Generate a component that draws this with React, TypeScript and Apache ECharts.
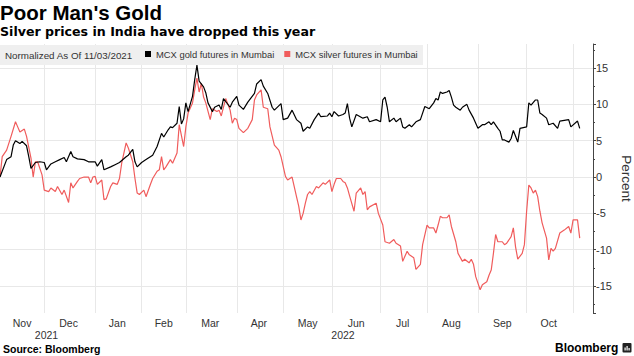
import React, { useEffect, useRef } from 'react';
import * as echarts from 'echarts';

// ---- axis domain (weekday trading slots) ----
const startDate = '2021-11-03';
const endDate = '2022-11-14';
const monthNames = ['Jan', 'Feb', 'Mar', 'Apr', 'May', 'Jun', 'Jul', 'Aug', 'Sep', 'Oct', 'Nov', 'Dec'];
const labelledMonths = ['2021-11', '2021-12', '2022-01', '2022-02', '2022-03', '2022-04', '2022-05', '2022-06', '2022-07', '2022-08', '2022-09', '2022-10'];
const yearLabels = ['2021', '2022'];
const yTickLabels = [-15, -10, -5, 0, 5, 10, 15];

// ---- series: [weekday offset from 11/03/2021, percent change] ----
const goldPoints: [number, number][] = [
  [0, 0], [3, 2.4], [5, 2.8], [6, 4.4], [7, 5.0], [9, 4.6], [10, 4.9], [12, 4.3], [13, 2.8], [14, 1.2],
  [16, 2.0], [18, 2.1], [20, 2.0], [21, 1.0], [23, 1.8], [25, 2.1], [27, 2.4], [29, 2.7], [30, 2.1], [32, 3.5],
  [33, 2.8], [35, 2.5], [38, 2.4], [40, 2.1], [43, 2.1], [44, 1.5], [46, 2.4], [47, 1.0], [50, 1.4], [52, 1.7],
  [54, 2.0], [57, 2.8], [58, 3.0], [60, 3.8], [61, 2.1], [62, 1.4], [64, 2.0], [66, 2.4], [69, 3.0], [71, 4.2],
  [73, 6.0], [74, 5.5], [76, 6.5], [77, 6.9], [78, 6.8], [80, 7.4], [81, 9.7], [82, 7.3], [83, 8.0], [84, 10.2],
  [85, 9.0], [87, 11.1], [88, 13.4], [89, 15.4], [90, 13.2], [92, 12.4], [93, 11.6], [94, 10.2], [96, 9.0], [97, 9.6],
  [99, 9.9], [100, 9.3], [101, 10.8], [104, 9.6], [105, 10.3], [107, 11.1], [108, 9.9], [110, 9.3], [112, 10.3], [115, 11.5],
  [116, 12.8], [118, 13.4], [119, 12.5], [121, 11.5], [123, 9.6], [124, 9.2], [127, 10.1], [128, 7.9], [130, 8.1], [132, 9.2],
  [134, 7.9], [136, 7.4], [137, 6.3], [139, 6.9], [140, 6.7], [142, 7.9], [144, 8.8], [145, 8.3], [148, 8.4], [149, 8.8],
  [150, 8.3], [151, 9.0], [153, 8.4], [155, 8.6], [156, 8.8], [157, 10.1], [158, 8.1], [159, 6.9], [161, 8.6], [164, 8.1],
  [166, 8.3], [167, 7.6], [170, 7.9], [172, 7.6], [173, 10.6], [174, 11.0], [175, 9.6], [176, 7.6], [178, 8.1], [179, 7.6],
  [181, 8.1], [182, 6.9], [183, 6.7], [185, 7.2], [186, 6.9], [188, 7.6], [190, 7.9], [192, 9.7], [194, 9.4], [196, 10.2],
  [197, 10.8], [198, 10.6], [199, 11.7], [200, 11.5], [202, 11.7], [203, 11.9], [204, 11.0], [205, 9.9], [206, 9.6], [208, 9.2],
  [209, 9.6], [211, 10.0], [212, 9.2], [214, 8.1], [216, 6.7], [218, 7.2], [219, 7.2], [221, 7.6], [222, 7.2], [223, 7.6],
  [225, 6.7], [226, 6.3], [227, 5.1], [228, 5.1], [230, 4.8], [231, 5.3], [232, 6.4], [233, 5.6], [234, 4.8], [235, 6.7],
  [238, 6.9], [239, 10.2], [240, 9.9], [242, 10.6], [243, 10.6], [244, 8.8], [245, 8.6], [247, 8.1], [248, 7.2], [250, 7.4],
  [252, 6.7], [253, 7.7], [257, 7.9], [258, 6.9], [261, 7.7], [262, 6.7],
];

const silverPoints: [number, number][] = [
  [0, 0], [1, 2.8], [3, 3.7], [5, 5.6], [7, 7.6], [8, 6.9], [9, 6.2], [11, 6.6], [12, 5.6], [14, 2.6],
  [15, 0], [16, 2.1], [17, 2.1], [19, 0.3], [20, -1.8], [22, -2.0], [23, -1.5], [25, -2.0], [26, -1.3], [28, -2.4],
  [29, -1.8], [31, -3.5], [32, -0.8], [33, -1.5], [35, -0.6], [36, -0.2], [38, 0], [40, 0], [41, -0.8], [42, 0],
  [43, 0.1], [44, -1.0], [46, -0.4], [47, -3.1], [48, -3.0], [50, -1.3], [51, -0.8], [53, -1.0], [54, -0.2], [55, 1.9],
  [57, 4.7], [58, 4.0], [60, 2.1], [61, -0.2], [62, -2.2], [63, -2.4], [65, -1.8], [66, -2.7], [68, -1.0], [69, -0.2],
  [71, 0.8], [72, 1.0], [73, 2.8], [74, 1.0], [75, 1.4], [77, 2.4], [78, 1.9], [80, 3.3], [81, 7.2], [83, 4.2],
  [84, 6.9], [85, 8.8], [87, 10.2], [88, 12.0], [89, 13.6], [90, 11.7], [91, 12.9], [92, 11.0], [93, 10.2], [95, 7.9],
  [96, 9.4], [98, 9.0], [99, 9.2], [100, 8.4], [102, 10.8], [104, 9.2], [105, 7.4], [106, 8.1], [107, 7.9], [108, 6.7],
  [110, 6.1], [112, 6.7], [114, 7.9], [115, 10.6], [116, 11.3], [118, 12.0], [119, 9.6], [121, 9.4], [122, 6.9], [124, 4.4],
  [126, 3.7], [127, 2.8], [129, 0.1], [130, -0.4], [132, 0], [134, -2.7], [135, -4.0], [136, -5.9], [137, -5.0], [138, -3.6],
  [139, -2.4], [140, -2.0], [141, -2.4], [143, -1.3], [144, -1.5], [146, -0.8], [147, -1.0], [149, -0.4], [150, -2.0], [151, -1.0],
  [152, -0.2], [154, -0.2], [155, -0.6], [156, -0.8], [157, -1.5], [158, -2.6], [160, -4.7], [161, -2.2], [163, -1.5], [164, -2.4],
  [165, -2.0], [166, -4.5], [167, -4.1], [170, -3.6], [171, -5.0], [173, -6.6], [174, -8.9], [176, -9.1], [178, -8.6], [179, -9.1],
  [181, -9.5], [182, -11.6], [183, -10.9], [184, -10.2], [185, -10.7], [187, -11.1], [188, -12.7], [190, -12.0], [191, -9.3], [193, -6.6],
  [194, -7.0], [196, -7.0], [197, -7.7], [198, -6.6], [199, -5.4], [200, -5.6], [202, -5.6], [203, -5.2], [204, -6.8], [206, -8.9],
  [207, -10.5], [209, -11.6], [210, -11.3], [212, -11.8], [213, -11.3], [214, -12.0], [215, -13.7], [217, -15.5], [218, -14.8], [220, -14.4],
  [221, -13.5], [222, -12.8], [223, -10.5], [224, -7.9], [225, -8.9], [227, -8.9], [228, -9.3], [229, -9.1], [231, -8.2], [232, -7.0],
  [233, -9.6], [234, -11.3], [236, -10.5], [237, -9.3], [238, -4.7], [239, -1.1], [240, -1.5], [241, -2.2], [242, -1.8], [243, -2.7],
  [244, -4.7], [245, -6.3], [247, -8.4], [248, -11.4], [249, -9.8], [250, -10.2], [251, -9.8], [253, -7.7], [255, -7.3], [257, -6.8],
  [258, -7.7], [259, -5.9], [261, -5.9], [262, -8.4],
];

const FONT = '"Liberation Sans", Arial, sans-serif';
const WIDE = '"DejaVu Sans", Verdana, sans-serif';
const GOLD = '#000000';
const SILVER = '#f05c5c';

function weekdays(start: string, end: string): string[] {
  const out: string[] = [];
  const d = new Date(start + 'T00:00:00Z');
  const e = new Date(end + 'T00:00:00Z');
  while (d.getTime() <= e.getTime()) {
    const wd = d.getUTCDay();
    if (wd !== 0 && wd !== 6) out.push(d.toISOString().slice(0, 10));
    d.setUTCDate(d.getUTCDate() + 1);
  }
  return out;
}

export default function App() {
  const ref = useRef<HTMLDivElement>(null);
  useEffect(() => {
    if (!ref.current) return;
    document.body.style.margin = '0';
    const categories = weekdays(startDate, endDate);
    const last = categories.length - 1;

    const monthStarts = new Set<number>();
    for (let i = 1; i < categories.length; i++) {
      if (categories[i].slice(0, 7) !== categories[i - 1].slice(0, 7)) monthStarts.add(i);
    }
    const firstIndexOf = (prefix: string) => categories.findIndex((c) => c.startsWith(prefix));
    const monthLabelIdx = new Set<number>();
    labelledMonths.forEach((m) => {
      const s = firstIndexOf(m);
      let n = -1;
      for (let i = s + 1; i < categories.length; i++) {
        if (!categories[i].startsWith(m)) { n = i; break; }
      }
      if (n < 0) n = last;
      monthLabelIdx.add(Math.floor((s + n) / 2));
    });
    const yearLabelIdx = new Set<number>();
    yearLabels.forEach((y, k) => {
      const s = firstIndexOf(y);
      const nxt = k + 1 < yearLabels.length ? firstIndexOf(yearLabels[k + 1]) : last;
      yearLabelIdx.add(Math.floor((s + nxt) / 2));
    });

    const toData = (pts: [number, number][]) => pts.map(([d, v]) => [categories[d], v]);

    const chart = echarts.init(ref.current, undefined, { renderer: 'svg' });
    chart.setOption({
      animation: false,
      backgroundColor: '#ffffff',
      textStyle: { fontFamily: FONT },
      grid: { left: 0, right: 41, top: 44, bottom: 43, containLabel: false, outerBoundsMode: 'none' },
      xAxis: [
        {
          type: 'category',
          data: categories,
          boundaryGap: false,
          position: 'bottom',
          axisLine: { show: false, onZero: false },
          axisTick: { show: false },
          splitLine: {
            show: true,
            interval: (i: number) => monthStarts.has(i),
            lineStyle: { color: '#e8e8e8', width: 1 },
          },
          axisLabel: {
            interval: (i: number) => monthLabelIdx.has(i),
            formatter: (v: string) => monthNames[parseInt(v.slice(5, 7), 10) - 1],
            color: '#333',
            fontSize: 10.5,
            fontFamily: FONT,
            margin: 4,
          },
        },
        {
          type: 'category',
          data: categories,
          boundaryGap: false,
          position: 'bottom',
          axisLine: { show: false, onZero: false },
          axisTick: { show: false },
          splitLine: { show: false },
          axisLabel: {
            interval: (i: number) => yearLabelIdx.has(i),
            formatter: (v: string) => v.slice(0, 4),
            color: '#333',
            fontSize: 10.5,
            fontFamily: FONT,
            margin: 16,
          },
        },
      ],
      yAxis: {
        type: 'value',
        position: 'right',
        min: -18.7,
        max: 18.3,
        minInterval: 5,
        maxInterval: 5,
        splitNumber: 7,
        axisLine: { show: true, lineStyle: { color: '#444', width: 1 } },
        axisTick: { show: true, length: 3, lineStyle: { color: '#444' } },
        minorTick: { show: true, splitNumber: 2, length: 2, lineStyle: { color: '#444' } },
        axisLabel: {
          show: true,
          margin: 3,
          color: '#333',
          fontSize: 11,
          fontFamily: FONT,
          showMinLabel: false,
          showMaxLabel: false,
          formatter: (v: number) => (yTickLabels.includes(v) ? String(v) : ''),
        },
        splitLine: { show: true, showMinLine: false, showMaxLine: false, lineStyle: { color: '#e8e8e8', width: 1 } },
        name: 'Percent',
        nameLocation: 'middle',
        nameRotate: -90,
        nameGap: 26,
        nameMoveOverlap: false,
        nameTextStyle: { color: '#333', fontSize: 13.5, fontFamily: FONT },
      },
      legend: {
        show: true,
        left: 145,
        top: 49.5,
        padding: 0,
        itemWidth: 6,
        itemHeight: 6,
        itemGap: 10,
        icon: 'rect',
        selectedMode: false,
        z: 20,
        data: ['MCX gold futures in Mumbai', 'MCX silver futures in Mumbai'],
        textStyle: { fontSize: 9.4, color: '#333', fontFamily: FONT },
      },
      graphic: [
        { type: 'text', left: 0, top: 2, z: 10, style: { text: "Poor Man's Gold", font: `bold 20.5px ${FONT}`, fill: '#000' } },
        { type: 'text', left: 0, top: 25, z: 10, style: { text: 'Silver prices in India have dropped this year', font: `bold 12.6px ${WIDE}`, fill: '#000' } },
        { type: 'rect', shape: { x: 0, y: 45, width: 423, height: 20 }, z: 10, style: { fill: '#efefef' } },
        { type: 'text', x: 5, y: 55, z: 11, style: { text: 'Normalized As Of 11/03/2021', font: `9.8px ${FONT}`, fill: '#333', verticalAlign: 'middle' } },
        { type: 'text', x: 3, y: 349, z: 10, style: { text: 'Source: Bloomberg', font: `bold 10.5px ${FONT}`, fill: '#000', verticalAlign: 'middle' } },
        { type: 'text', x: 555, y: 348, z: 10, style: { text: 'Bloomberg', font: `bold 12px ${FONT}`, fill: '#000', verticalAlign: 'middle' } },
        { type: 'rect', shape: { x: 622.5, y: 343, width: 9, height: 9.5, r: 1 }, z: 10, style: { fill: '#222' } },
        { type: 'rect', shape: { x: 624.5, y: 347.5, width: 1.2, height: 3 }, z: 11, style: { fill: '#fff' } },
        { type: 'rect', shape: { x: 626.5, y: 346, width: 1.2, height: 4.5 }, z: 11, style: { fill: '#fff' } },
        { type: 'rect', shape: { x: 628.5, y: 348, width: 1.2, height: 2.5 }, z: 11, style: { fill: '#fff' } },
      ],
      series: [
        {
          name: 'MCX silver futures in Mumbai',
          type: 'line',
          data: toData(silverPoints),
          showSymbol: false,
          symbol: 'none',
          color: SILVER,
          itemStyle: { color: SILVER },
          lineStyle: { color: SILVER, width: 1.2 },
          z: 2,
        },
        {
          name: 'MCX gold futures in Mumbai',
          type: 'line',
          data: toData(goldPoints),
          showSymbol: false,
          symbol: 'none',
          color: GOLD,
          itemStyle: { color: GOLD },
          lineStyle: { color: GOLD, width: 1.2 },
          z: 3,
        },
      ],
    });
    return () => chart.dispose();
  }, []);
  return <div ref={ref} style={{ position: 'absolute', left: 0, top: 0, width: 634, height: 356 }} />;
}
